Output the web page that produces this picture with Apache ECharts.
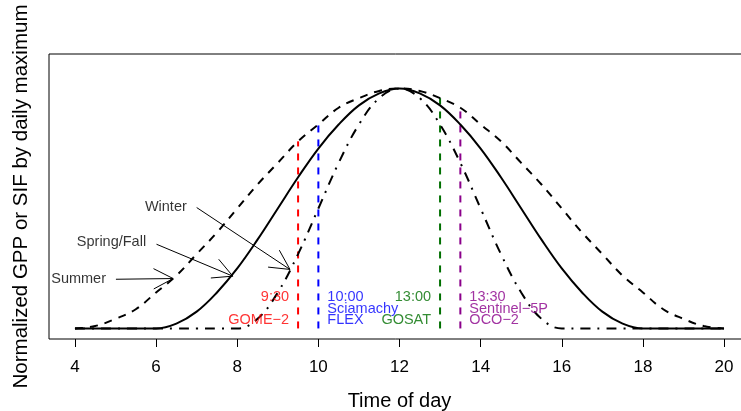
<!DOCTYPE html>
<html>
<head>
<meta charset="utf-8">
<script src="https://cdn.jsdelivr.net/npm/echarts@6/dist/echarts.min.js"></script>
<style>
  html, body { margin: 0; padding: 0; background: #fff; }
  #chart { width: 741px; height: 411px; }
</style>
</head>
<body>
<div id="chart"></div>
<script>
// hours of the day, every half hour
const hours = [4, 4.5, 5, 5.5, 6, 6.5, 7, 7.5, 8, 8.5, 9, 9.5, 10, 10.5, 11, 11.5, 12,
  12.5, 13, 13.5, 14, 14.5, 15, 15.5, 16, 16.5, 17, 17.5, 18, 18.5, 19, 19.5, 20]

// normalized GPP / SIF
const summer = [0, 0.01, 0.04, 0.08, 0.15, 0.22, 0.31, 0.40, 0.50, 0.60, 0.69, 0.78, 0.85, 0.92, 0.96, 0.99, 1.00,
  0.99, 0.96, 0.92, 0.85, 0.78, 0.69, 0.60, 0.50, 0.40, 0.31, 0.22, 0.15, 0.08, 0.04, 0.01, 0]
const springFall = [0, 0, 0, 0, 0, 0.02, 0.07, 0.15, 0.25, 0.37, 0.50, 0.63, 0.75, 0.85, 0.93, 0.98, 1.00,
  0.98, 0.93, 0.85, 0.75, 0.63, 0.50, 0.37, 0.25, 0.15, 0.07, 0.02, 0, 0, 0, 0, 0]
const winter = [0, 0, 0, 0, 0, 0, 0, 0, 0, 0.04, 0.15, 0.31, 0.50, 0.69, 0.85, 0.96, 1.00,
  0.96, 0.85, 0.69, 0.50, 0.31, 0.15, 0.04, 0, 0, 0, 0, 0, 0, 0, 0, 0]

const xTicks = [4, 6, 8, 10, 12, 14, 16, 18, 20]

// satellite overpass times
const satTimes = [9.5, 10, 13, 13.5]
const satTops = [0.78, 0.85, 0.96, 0.92]
const satColors = ['#ff0000', '#0000ff', '#006f00', '#8b008b']
const satClock = ['9:30', '10:00', '13:00', '13:30']
const satNames = [['', 'GOME−2'], ['Sciamachy', 'FLEX'], ['', 'GOSAT'], ['Sentinel−5P', 'OCO−2']]
const satSide = ['left', 'right', 'left', 'right']
const labelRows = [0.13, 0.082, 0.034]

// season annotations: text position, arrow start, arrow end
const seasonNames = ['Winter', 'Spring/Fall', 'Summer']
const seasonText = [[6.24, 0.506], [4.90, 0.359], [4.09, 0.205]]
const arrowFrom = [[7.0, 0.504], [6.01, 0.351], [5.01, 0.205]]
const arrowTo = [[9.30, 0.246], [7.89, 0.218], [6.42, 0.208]]

const FONT = '"Liberation Sans", Arial, sans-serif'

function pairs(ys) {
  return hours.map((h, i) => [h, ys[i]])
}

function curve(name, ys, type) {
  return {
    name, type: 'line', data: pairs(ys),
    smooth: 0.4, showSymbol: false, silent: true,
    lineStyle: { color: '#000', width: 2, type },
    z: 3,
  }
}

const series = [
  curve('Summer', summer, [8, 7]),
  curve('Spring/Fall', springFall, 'solid'),
  curve('Winter', winter, [10, 7, 2, 7]),
]

satTimes.forEach((t, i) => {
  series.push({
    type: 'line', silent: true, showSymbol: false,
    data: [[t, 0], [t, satTops[i]]],
    lineStyle: { color: satColors[i], width: 2, type: [7, 7] },
    z: 2,
  })
  const rows = [satClock[i]].concat(satNames[i])
  series.push({
    type: 'scatter', silent: true, symbolSize: 0,
    data: rows.map((txt, r) => ({ value: [t, labelRows[r]], name: txt })),
    label: {
      show: true, position: satSide[i], distance: 9,
      formatter: (p) => p.name,
      color: satColors[i], fontSize: 14.5, fontFamily: FONT,
    },
    z: 4,
  })
})

series.push({
  type: 'scatter', silent: true, symbolSize: 0,
  data: seasonNames.map((n, i) => ({ value: seasonText[i], name: n })),
  label: {
    show: true, position: 'inside', formatter: (p) => p.name,
    color: '#000', fontSize: 14.5, fontFamily: FONT,
  },
})

series.push({
  type: 'custom', silent: true,
  data: arrowFrom.map((a, i) => [a[0], a[1], arrowTo[i][0], arrowTo[i][1]]),
  renderItem: (params, api) => {
    const p1 = api.coord([api.value(0), api.value(1)])
    const p2 = api.coord([api.value(2), api.value(3)])
    const ang = Math.atan2(p2[1] - p1[1], p2[0] - p1[0])
    const len = 22, spread = 0.48
    const h1 = [p2[0] - len * Math.cos(ang - spread), p2[1] - len * Math.sin(ang - spread)]
    const h2 = [p2[0] - len * Math.cos(ang + spread), p2[1] - len * Math.sin(ang + spread)]
    const style = { stroke: '#000', lineWidth: 1, fill: null }
    return {
      type: 'group',
      children: [
        { type: 'line', shape: { x1: p1[0], y1: p1[1], x2: p2[0], y2: p2[1] }, style },
        { type: 'polyline', shape: { points: [h1, p2, h2] }, style },
      ],
    }
  },
  z: 5,
})

const chart = echarts.init(document.getElementById('chart'), null, { renderer: 'canvas' })
chart.setOption({
  animation: false,
  backgroundColor: '#fff',
  textStyle: { fontFamily: FONT },
  grid: {
    left: 49, top: 54, width: 701, height: 285,
    outerBoundsMode: 'none', containLabel: false,
    show: true, borderColor: '#000', borderWidth: 1, backgroundColor: 'transparent',
  },
  xAxis: {
    type: 'value', min: 3.36, max: 20.64,
    name: 'Time of day', nameLocation: 'middle', nameGap: 52,
    nameTextStyle: { color: '#000', fontSize: 20, fontFamily: FONT },
    axisLine: { show: false, onZero: false },
    axisTick: { show: true, length: 8, lineStyle: { color: '#000', width: 1 }, customValues: xTicks },
    axisLabel: { color: '#000', fontSize: 17, margin: 20, fontFamily: FONT, customValues: xTicks },
    splitLine: { show: false },
  },
  yAxis: {
    type: 'value', min: -0.044, max: 1.144,
    name: 'Normalized GPP or SIF by daily maximum', nameLocation: 'middle', nameGap: 17,
    nameTextStyle: { color: '#000', fontSize: 20.5, fontFamily: FONT },
    axisLine: { show: false }, axisTick: { show: false },
    axisLabel: { show: false }, splitLine: { show: false },
  },
  series,
})
</script>
</body>
</html>
